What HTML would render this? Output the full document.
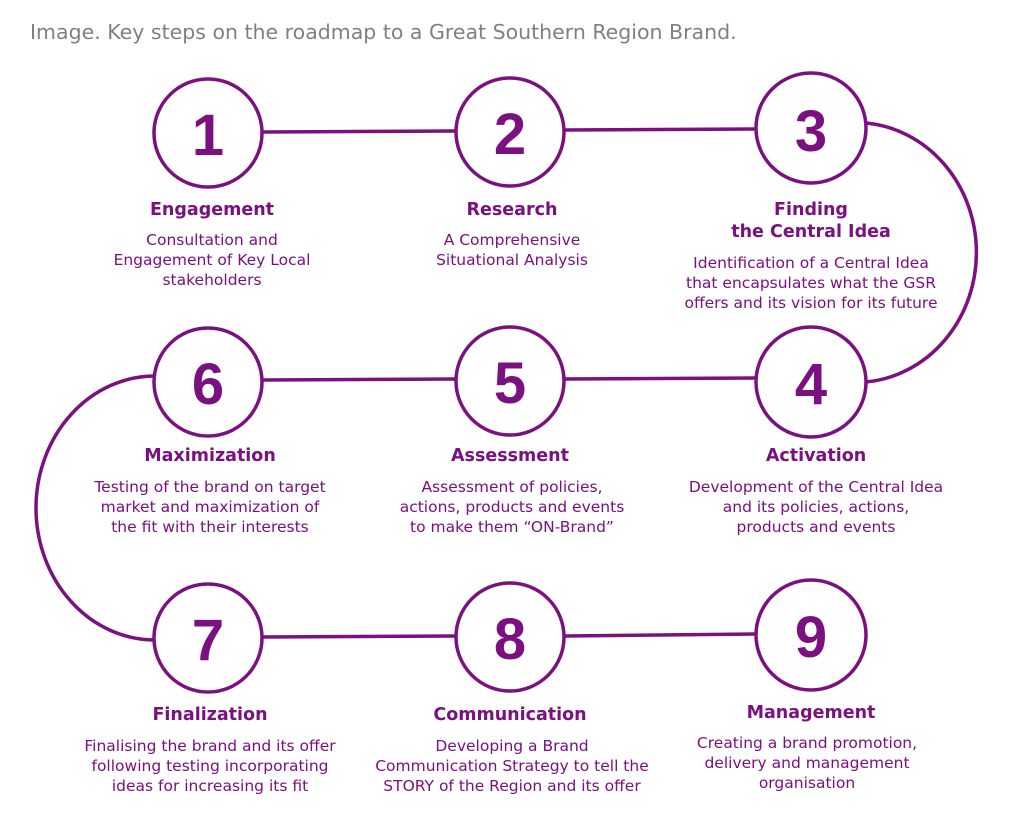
<!DOCTYPE html>
<html><head><meta charset="utf-8"><style>
body{margin:0;background:#fff;width:1024px;height:835px;overflow:hidden;font-family:"DejaVu Sans",sans-serif}
svg{position:absolute;left:0;top:0}
</style></head><body>
<svg width="1024" height="835" viewBox="0 0 1024 835" xmlns="http://www.w3.org/2000/svg">
<text x="30" y="39" font-size="20.5" fill="#808080" font-family="DejaVu Sans">Image. Key steps on the roadmap to a Great Southern Region Brand.</text>
<g stroke="#7b1080" stroke-width="3.5" fill="none">
<line x1="262" y1="132" x2="456" y2="131"/>
<line x1="564" y1="130" x2="756" y2="129"/>
<path d="M866 123 A121 130 0 0 1 866 382"/>
<line x1="262" y1="380" x2="456" y2="379"/>
<line x1="564" y1="379" x2="756" y2="378"/>
<path d="M155 376 A119 132 0 0 0 155 640"/>
<line x1="262" y1="637" x2="456" y2="636"/>
<line x1="564" y1="636" x2="756" y2="634"/>
<circle cx="208" cy="133" r="54"/><circle cx="510" cy="132" r="54"/><circle cx="811" cy="128" r="55"/>
<circle cx="208" cy="382" r="54"/><circle cx="510" cy="381" r="54"/><circle cx="811" cy="382" r="55"/>
<circle cx="208" cy="638" r="54"/><circle cx="510" cy="637" r="54"/><circle cx="811" cy="635" r="55"/>
</g>
<g fill="#7b1080" font-weight="bold" font-size="58" text-anchor="middle" font-family="Liberation Sans">
<text x="208" y="155">1</text><text x="510" y="154">2</text><text x="811" y="151">3</text>
<text x="208" y="404">6</text><text x="510" y="403">5</text><text x="811" y="404">4</text>
<text x="208" y="660">7</text><text x="510" y="659">8</text><text x="811" y="657">9</text>
</g>
<g fill="#7b1080" font-weight="bold" font-size="17.5" text-anchor="middle">
<text x="212" y="215">Engagement</text><text x="512" y="215">Research</text>
<text x="811" y="215">Finding</text><text x="811" y="237">the Central Idea</text>
<text x="210" y="461">Maximization</text><text x="510" y="461">Assessment</text><text x="816" y="461">Activation</text>
<text x="210" y="720">Finalization</text><text x="510" y="720">Communication</text><text x="811" y="718">Management</text>
</g>
<g fill="#7b1080" font-size="15.5" text-anchor="middle">
<text x="212" y="245">Consultation and</text><text x="212" y="265">Engagement of Key Local</text><text x="212" y="285">stakeholders</text>
<text x="512" y="245">A Comprehensive</text><text x="512" y="265">Situational Analysis</text>
<text x="811" y="268">Identification of a Central Idea</text><text x="811" y="288">that encapsulates what the GSR</text><text x="811" y="308">offers and its vision for its future</text>
<text x="210" y="492">Testing of the brand on target</text><text x="210" y="512">market and maximization of</text><text x="210" y="532">the fit with their interests</text>
<text x="512" y="492">Assessment of policies,</text><text x="512" y="512">actions, products and events</text><text x="512" y="532">to make them “ON-Brand”</text>
<text x="816" y="492">Development of the Central Idea</text><text x="816" y="512">and  its policies, actions,</text><text x="816" y="532">products and events</text>
<text x="210" y="751">Finalising the brand and its offer</text><text x="210" y="771">following testing incorporating</text><text x="210" y="791">ideas for increasing its fit</text>
<text x="512" y="751">Developing a Brand</text><text x="512" y="771">Communication Strategy to tell the</text><text x="512" y="791">STORY of the Region and its offer</text>
<text x="807" y="748">Creating a brand promotion,</text><text x="807" y="768">delivery and management</text><text x="807" y="788">organisation</text>
</g>
</svg>
</body></html>
